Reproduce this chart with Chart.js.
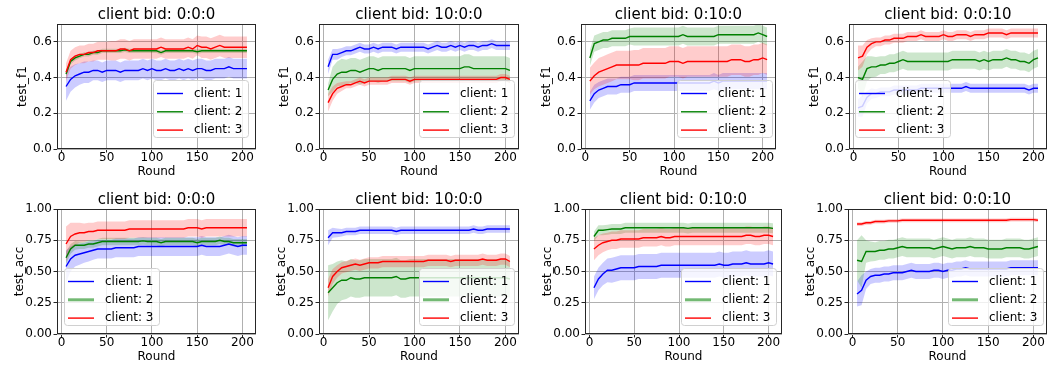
<!DOCTYPE html>
<html>
<head>
<meta charset="utf-8">
<script src="https://cdn.jsdelivr.net/npm/chart.js@4/dist/chart.umd.min.js"></script>
<style>
  body { margin: 0; background: #fff; width: 1048px; height: 369px; position: relative; overflow: hidden; }
  canvas { position: absolute; }
</style>
</head>
<body>
<script>
// ---- data ----
const ROUNDS = [5,10,15,20,25,30,35,40,45,50,55,60,65,70,75,80,85,90,95,100,105,110,115,120,125,130,135,140,145,150,155,160,165,170,175,180,185,190,195,200,205];
const X_TICKS = [0, 50, 100, 150, 200];
const F1_TICKS = [0, 0.2, 0.4, 0.6];
const F1_LABELS = ['0.0', '0.2', '0.4', '0.6'];
const ACC_TICKS = [0, 0.25, 0.5, 0.75, 1.0];
const ACC_LABELS = ['0.00', '0.25', '0.50', '0.75', '1.00'];
const CLIENTS = ['client: 1', 'client: 2', 'client: 3'];
const BIDS = ['0:0:0', '10:0:0', '0:10:0', '0:0:10'];

// test_f1, bid 0:0:0
const f1_000_c1 = [0.35,0.39,0.41,0.42,0.43,0.43,0.44,0.44,0.43,0.44, 0.44,0.44,0.43,0.44,0.44,0.44,0.44,0.45,0.44,0.45, 0.44,0.44,0.45,0.44,0.44,0.45,0.44,0.45,0.44,0.45, 0.45,0.44,0.44,0.45,0.45,0.45,0.46,0.45,0.45,0.45, 0.45];
const f1_000_c1_sd = [0.08,0.07,0.065,0.06,0.06,0.06,0.055,0.055,0.055,0.055, 0.055,0.055,0.055,0.055,0.055,0.055,0.055,0.055,0.055,0.055, 0.055,0.055,0.055,0.055,0.055,0.055,0.055,0.055,0.055,0.055, 0.055,0.055,0.055,0.055,0.055,0.055,0.055,0.055,0.055,0.055, 0.055];
const f1_000_c2 = [0.42,0.49,0.51,0.52,0.53,0.53,0.54,0.54,0.55,0.55, 0.55,0.55,0.55,0.555,0.55,0.55,0.55,0.55,0.55,0.55, 0.55,0.54,0.55,0.55,0.55,0.55,0.55,0.55,0.55,0.545, 0.55,0.55,0.55,0.55,0.55,0.55,0.55,0.55,0.55,0.55, 0.55];
const f1_000_c2_sd = [0.02,0.015,0.015,0.012,0.012,0.012,0.012,0.012,0.012,0.012, 0.012,0.012,0.012,0.012,0.012,0.012,0.012,0.012,0.012,0.012, 0.012,0.012,0.012,0.012,0.012,0.012,0.012,0.012,0.012,0.012, 0.012,0.012,0.012,0.012,0.012,0.012,0.012,0.012,0.012,0.012, 0.012];
const f1_000_c3 = [0.43,0.50,0.52,0.53,0.53,0.54,0.54,0.55,0.55,0.55, 0.55,0.55,0.56,0.56,0.55,0.56,0.56,0.56,0.56,0.56, 0.56,0.57,0.56,0.56,0.56,0.56,0.56,0.57,0.56,0.58, 0.57,0.57,0.56,0.57,0.58,0.57,0.57,0.57,0.57,0.57, 0.57];
const f1_000_c3_sd = [0.05,0.05,0.05,0.05,0.05,0.05,0.05,0.05,0.05,0.05, 0.055,0.055,0.055,0.055,0.055,0.055,0.055,0.055,0.055,0.055, 0.055,0.055,0.055,0.055,0.055,0.055,0.055,0.055,0.055,0.055, 0.06,0.06,0.06,0.06,0.06,0.06,0.06,0.06,0.06,0.06, 0.06];

// test_f1, bid 10:0:0
const f1_100_c1 = [0.46,0.53,0.53,0.54,0.55,0.55,0.56,0.57,0.56,0.56, 0.57,0.56,0.57,0.57,0.57,0.56,0.57,0.57,0.57,0.57, 0.57,0.57,0.56,0.57,0.58,0.57,0.57,0.58,0.57,0.58, 0.57,0.58,0.58,0.57,0.58,0.58,0.59,0.58,0.58,0.58, 0.58];
const f1_100_c1_sd = [0.04,0.03,0.03,0.025,0.025,0.025,0.025,0.025,0.025,0.025, 0.025,0.025,0.025,0.025,0.025,0.025,0.025,0.025,0.025,0.025, 0.025,0.025,0.025,0.025,0.025,0.025,0.025,0.025,0.025,0.025, 0.025,0.025,0.025,0.025,0.025,0.025,0.025,0.025,0.025,0.025, 0.025];
const f1_100_c2 = [0.33,0.39,0.42,0.43,0.43,0.44,0.44,0.43,0.44,0.45, 0.45,0.44,0.45,0.45,0.45,0.45,0.45,0.45,0.44,0.45, 0.45,0.45,0.45,0.45,0.45,0.45,0.45,0.45,0.45,0.45, 0.46,0.46,0.45,0.45,0.45,0.45,0.45,0.45,0.45,0.45, 0.44];
const f1_100_c2_sd = [0.035,0.07,0.07,0.075,0.07,0.07,0.07,0.07,0.07,0.07, 0.07,0.07,0.07,0.07,0.07,0.07,0.07,0.07,0.07,0.07, 0.07,0.07,0.07,0.07,0.07,0.07,0.07,0.07,0.07,0.07, 0.07,0.07,0.07,0.07,0.07,0.07,0.07,0.07,0.07,0.07, 0.07];
const f1_100_c3 = [0.26,0.31,0.34,0.35,0.36,0.36,0.37,0.38,0.37,0.38, 0.38,0.38,0.38,0.38,0.39,0.39,0.39,0.39,0.38,0.39, 0.39,0.39,0.39,0.39,0.39,0.39,0.39,0.39,0.39,0.39, 0.39,0.39,0.39,0.39,0.39,0.39,0.39,0.39,0.40,0.40, 0.39];
const f1_100_c3_sd = [0.05,0.04,0.03,0.025,0.02,0.02,0.02,0.02,0.02,0.02, 0.02,0.02,0.02,0.02,0.02,0.02,0.02,0.02,0.02,0.02, 0.02,0.02,0.02,0.02,0.02,0.02,0.02,0.02,0.02,0.02, 0.02,0.02,0.02,0.02,0.02,0.02,0.02,0.02,0.02,0.02, 0.02];

// test_f1, bid 0:10:0
const f1_010_c1 = [0.27,0.31,0.33,0.34,0.35,0.35,0.35,0.36,0.36,0.36, 0.37,0.37,0.37,0.37,0.37,0.37,0.37,0.37,0.37,0.37, 0.37,0.37,0.37,0.37,0.37,0.37,0.37,0.37,0.38,0.37, 0.38,0.38,0.38,0.38,0.38,0.38,0.38,0.38,0.38,0.38, 0.38];
const f1_010_c1_sd = [0.05,0.05,0.045,0.045,0.045,0.045,0.045,0.045,0.045,0.045, 0.045,0.045,0.045,0.045,0.045,0.045,0.045,0.045,0.045,0.045, 0.045,0.045,0.045,0.045,0.045,0.045,0.045,0.045,0.045,0.045, 0.045,0.045,0.045,0.045,0.045,0.045,0.045,0.045,0.045,0.045, 0.045];
const f1_010_c2 = [0.51,0.59,0.60,0.61,0.61,0.62,0.62,0.62,0.62,0.63, 0.63,0.63,0.63,0.63,0.63,0.63,0.63,0.63,0.63,0.63, 0.63,0.64,0.63,0.63,0.63,0.63,0.63,0.63,0.63,0.64, 0.64,0.64,0.64,0.64,0.64,0.64,0.64,0.64,0.65,0.64, 0.63];
const f1_010_c2_sd = [0.045,0.045,0.045,0.045,0.045,0.045,0.045,0.045,0.045,0.045, 0.05,0.05,0.05,0.05,0.05,0.05,0.05,0.05,0.05,0.05, 0.05,0.05,0.05,0.05,0.05,0.05,0.05,0.05,0.05,0.05, 0.05,0.05,0.05,0.05,0.05,0.05,0.05,0.05,0.05,0.05, 0.05];
const f1_010_c3 = [0.38,0.41,0.43,0.44,0.45,0.46,0.47,0.47,0.47,0.47, 0.47,0.47,0.48,0.48,0.48,0.48,0.48,0.48,0.49,0.49, 0.49,0.48,0.49,0.49,0.49,0.49,0.49,0.49,0.49,0.49, 0.49,0.49,0.50,0.50,0.50,0.49,0.49,0.50,0.50,0.51, 0.50];
const f1_010_c3_sd = [0.075,0.075,0.08,0.08,0.08,0.08,0.08,0.08,0.08,0.08, 0.085,0.085,0.085,0.085,0.085,0.085,0.085,0.085,0.085,0.085, 0.085,0.085,0.085,0.085,0.085,0.085,0.085,0.085,0.085,0.085, 0.085,0.085,0.085,0.085,0.085,0.085,0.085,0.085,0.085,0.085, 0.085];

// test_f1, bid 0:0:10
const f1_001_c1 = [0.23,0.24,0.29,0.31,0.31,0.32,0.32,0.32,0.33,0.33, 0.33,0.33,0.33,0.33,0.34,0.34,0.34,0.34,0.34,0.34, 0.34,0.34,0.34,0.34,0.35,0.34,0.34,0.34,0.34,0.34, 0.34,0.34,0.34,0.34,0.34,0.34,0.34,0.34,0.33,0.34, 0.34];
const f1_001_c1_sd = [0.05,0.06,0.035,0.03,0.025,0.025,0.025,0.025,0.025,0.025, 0.025,0.025,0.025,0.025,0.025,0.025,0.025,0.025,0.025,0.025, 0.025,0.025,0.025,0.025,0.025,0.025,0.025,0.025,0.025,0.025, 0.025,0.025,0.025,0.025,0.025,0.025,0.025,0.025,0.025,0.025, 0.025];
const f1_001_c2 = [0.40,0.39,0.45,0.46,0.46,0.47,0.47,0.48,0.48,0.49, 0.50,0.49,0.49,0.49,0.49,0.49,0.49,0.49,0.49,0.49, 0.49,0.50,0.50,0.50,0.50,0.50,0.50,0.49,0.50,0.49, 0.50,0.50,0.50,0.51,0.50,0.50,0.49,0.49,0.48,0.50, 0.51];
const f1_001_c2_sd = [0.06,0.10,0.07,0.06,0.055,0.05,0.05,0.05,0.05,0.05, 0.05,0.05,0.05,0.05,0.05,0.05,0.05,0.05,0.05,0.05, 0.05,0.05,0.05,0.05,0.05,0.05,0.05,0.05,0.05,0.05, 0.05,0.05,0.05,0.05,0.05,0.05,0.05,0.05,0.05,0.05, 0.05];
const f1_001_c3 = [0.51,0.52,0.57,0.59,0.60,0.60,0.61,0.61,0.62,0.62, 0.62,0.63,0.63,0.63,0.64,0.63,0.63,0.63,0.63,0.64, 0.63,0.63,0.64,0.64,0.64,0.63,0.64,0.64,0.64,0.65, 0.65,0.65,0.65,0.64,0.65,0.65,0.65,0.65,0.65,0.65, 0.65];
const f1_001_c3_sd = [0.07,0.06,0.04,0.03,0.025,0.025,0.025,0.025,0.025,0.025, 0.025,0.025,0.025,0.025,0.025,0.025,0.025,0.025,0.025,0.025, 0.025,0.025,0.025,0.025,0.025,0.025,0.025,0.025,0.025,0.025, 0.025,0.025,0.025,0.025,0.025,0.025,0.025,0.025,0.025,0.025, 0.025];

// test_acc, bid 0:0:0
const acc_000_c1 = [0.54,0.60,0.63,0.64,0.65,0.66,0.67,0.68,0.68,0.68, 0.68,0.69,0.69,0.69,0.69,0.69,0.70,0.70,0.70,0.70, 0.70,0.70,0.70,0.70,0.70,0.70,0.70,0.70,0.70,0.70, 0.71,0.70,0.70,0.70,0.70,0.71,0.72,0.71,0.70,0.71, 0.71];
const acc_000_c1_sd = [0.13,0.10,0.09,0.085,0.08,0.08,0.075,0.075,0.075,0.075, 0.075,0.075,0.075,0.075,0.075,0.075,0.075,0.075,0.075,0.075, 0.075,0.075,0.075,0.075,0.075,0.075,0.075,0.075,0.075,0.075, 0.075,0.075,0.075,0.075,0.075,0.075,0.075,0.075,0.075,0.075, 0.075];
const acc_000_c2 = [0.61,0.68,0.71,0.71,0.71,0.72,0.72,0.73,0.74,0.74, 0.74,0.74,0.74,0.74,0.74,0.74,0.74,0.745,0.74,0.74, 0.74,0.73,0.74,0.74,0.74,0.74,0.74,0.74,0.74,0.73, 0.74,0.74,0.74,0.74,0.75,0.74,0.74,0.73,0.73,0.73, 0.73];
const acc_000_c2_sd = [0.05,0.04,0.035,0.03,0.03,0.03,0.03,0.03,0.03,0.03, 0.03,0.03,0.03,0.03,0.03,0.03,0.03,0.03,0.03,0.03, 0.03,0.03,0.03,0.03,0.03,0.03,0.03,0.03,0.03,0.03, 0.03,0.03,0.03,0.03,0.03,0.03,0.03,0.03,0.03,0.03, 0.03];
const acc_000_c3 = [0.72,0.78,0.80,0.81,0.81,0.82,0.82,0.83,0.83,0.83, 0.83,0.83,0.83,0.83,0.84,0.84,0.84,0.84,0.84,0.84, 0.84,0.84,0.84,0.84,0.84,0.84,0.84,0.85,0.85,0.85, 0.84,0.85,0.85,0.85,0.85,0.85,0.85,0.85,0.85,0.85, 0.85];
const acc_000_c3_sd = [0.14,0.11,0.09,0.08,0.075,0.07,0.07,0.07,0.07,0.07, 0.07,0.07,0.07,0.07,0.07,0.07,0.07,0.07,0.07,0.07, 0.07,0.07,0.07,0.07,0.07,0.07,0.07,0.07,0.07,0.07, 0.07,0.07,0.07,0.07,0.07,0.07,0.07,0.07,0.07,0.07, 0.07];

// test_acc, bid 10:0:0
const acc_100_c1 = [0.77,0.81,0.81,0.81,0.82,0.82,0.82,0.83,0.83,0.83, 0.83,0.83,0.83,0.83,0.83,0.82,0.83,0.83,0.83,0.83, 0.83,0.83,0.83,0.83,0.83,0.83,0.83,0.83,0.83,0.83, 0.83,0.83,0.84,0.83,0.83,0.84,0.84,0.84,0.84,0.84, 0.84];
const acc_100_c1_sd = [0.06,0.04,0.035,0.03,0.03,0.03,0.03,0.03,0.03,0.03, 0.03,0.03,0.03,0.03,0.03,0.03,0.03,0.03,0.03,0.03, 0.03,0.03,0.03,0.03,0.03,0.03,0.03,0.03,0.03,0.03, 0.03,0.03,0.03,0.03,0.03,0.03,0.03,0.03,0.03,0.03, 0.03];
const acc_100_c2 = [0.33,0.37,0.41,0.43,0.43,0.45,0.44,0.44,0.45,0.45, 0.45,0.45,0.45,0.45,0.45,0.46,0.44,0.44,0.45,0.45, 0.45,0.45,0.45,0.45,0.45,0.45,0.45,0.45,0.45,0.45, 0.45,0.45,0.45,0.45,0.45,0.45,0.45,0.45,0.45,0.45, 0.44];
const acc_100_c2_sd = [0.22,0.19,0.17,0.16,0.15,0.15,0.15,0.15,0.15,0.15, 0.15,0.15,0.15,0.15,0.15,0.15,0.15,0.15,0.15,0.15, 0.15,0.15,0.15,0.15,0.15,0.15,0.15,0.15,0.15,0.15, 0.15,0.15,0.15,0.15,0.15,0.15,0.15,0.15,0.15,0.15, 0.15];
const acc_100_c3 = [0.37,0.46,0.50,0.53,0.54,0.55,0.56,0.55,0.56,0.57, 0.57,0.57,0.58,0.58,0.58,0.58,0.58,0.58,0.58,0.58, 0.58,0.58,0.59,0.59,0.59,0.59,0.59,0.58,0.59,0.59, 0.59,0.59,0.59,0.59,0.60,0.59,0.59,0.59,0.60,0.60, 0.58];
const acc_100_c3_sd = [0.07,0.06,0.05,0.045,0.045,0.045,0.045,0.045,0.045,0.045, 0.045,0.045,0.045,0.045,0.045,0.045,0.045,0.045,0.045,0.045, 0.045,0.045,0.045,0.045,0.045,0.045,0.045,0.045,0.045,0.045, 0.045,0.045,0.045,0.045,0.045,0.045,0.045,0.045,0.045,0.045, 0.045];

// test_acc, bid 0:10:0
const acc_010_c1 = [0.37,0.44,0.48,0.51,0.51,0.52,0.53,0.53,0.53,0.53, 0.54,0.54,0.54,0.54,0.54,0.55,0.55,0.55,0.55,0.55, 0.55,0.55,0.55,0.55,0.55,0.55,0.55,0.55,0.56,0.55, 0.55,0.56,0.56,0.56,0.57,0.56,0.56,0.56,0.56,0.57, 0.56];
const acc_010_c1_sd = [0.09,0.09,0.09,0.095,0.10,0.10,0.10,0.10,0.10,0.10, 0.10,0.10,0.10,0.10,0.10,0.10,0.10,0.10,0.10,0.10, 0.10,0.10,0.10,0.10,0.10,0.10,0.10,0.10,0.10,0.10, 0.10,0.10,0.10,0.10,0.10,0.10,0.10,0.10,0.10,0.10, 0.10];
const acc_010_c2 = [0.78,0.83,0.83,0.835,0.84,0.84,0.84,0.85,0.85,0.85, 0.85,0.85,0.85,0.85,0.85,0.85,0.85,0.85,0.85,0.85, 0.85,0.845,0.85,0.85,0.85,0.85,0.85,0.85,0.85,0.85, 0.85,0.85,0.85,0.85,0.85,0.85,0.85,0.85,0.85,0.85, 0.845];
const acc_010_c2_sd = [0.04,0.04,0.04,0.04,0.04,0.04,0.04,0.04,0.04,0.04, 0.04,0.04,0.04,0.04,0.04,0.04,0.04,0.04,0.04,0.04, 0.04,0.04,0.04,0.04,0.04,0.04,0.04,0.04,0.04,0.04, 0.04,0.04,0.04,0.04,0.04,0.04,0.04,0.04,0.04,0.04, 0.04];
const acc_010_c3 = [0.68,0.71,0.73,0.74,0.75,0.75,0.76,0.76,0.76,0.76, 0.76,0.77,0.77,0.77,0.77,0.78,0.77,0.77,0.78,0.78, 0.78,0.78,0.78,0.78,0.78,0.78,0.78,0.78,0.78,0.78, 0.78,0.78,0.78,0.78,0.79,0.79,0.78,0.78,0.79,0.79, 0.78];
const acc_010_c3_sd = [0.09,0.08,0.075,0.07,0.07,0.07,0.07,0.07,0.07,0.07, 0.07,0.07,0.07,0.07,0.07,0.07,0.07,0.07,0.07,0.07, 0.07,0.07,0.07,0.07,0.07,0.07,0.07,0.07,0.07,0.07, 0.07,0.07,0.07,0.07,0.07,0.07,0.07,0.07,0.07,0.07, 0.07];

// test_acc, bid 0:0:10
const acc_001_c1 = [0.32,0.35,0.43,0.46,0.47,0.47,0.48,0.48,0.49,0.49, 0.49,0.50,0.51,0.50,0.50,0.50,0.50,0.51,0.51,0.50, 0.51,0.51,0.52,0.52,0.53,0.52,0.52,0.52,0.52,0.52, 0.52,0.52,0.52,0.52,0.53,0.53,0.53,0.53,0.53,0.53, 0.53];
const acc_001_c1_sd = [0.10,0.12,0.07,0.06,0.06,0.06,0.06,0.06,0.06,0.06, 0.06,0.06,0.06,0.06,0.06,0.06,0.06,0.06,0.06,0.06, 0.06,0.06,0.06,0.06,0.06,0.06,0.06,0.06,0.06,0.06, 0.06,0.06,0.06,0.06,0.06,0.06,0.06,0.06,0.06,0.06, 0.06];
const acc_001_c2 = [0.59,0.58,0.66,0.66,0.66,0.67,0.67,0.68,0.68,0.69, 0.70,0.69,0.69,0.69,0.69,0.69,0.69,0.68,0.69,0.70, 0.69,0.68,0.69,0.69,0.69,0.70,0.69,0.69,0.69,0.68, 0.68,0.68,0.68,0.69,0.69,0.69,0.69,0.68,0.68,0.69, 0.70];
const acc_001_c2_sd = [0.16,0.21,0.09,0.08,0.075,0.075,0.075,0.075,0.075,0.075, 0.075,0.075,0.075,0.075,0.075,0.075,0.075,0.075,0.075,0.075, 0.075,0.075,0.075,0.075,0.075,0.075,0.075,0.075,0.075,0.075, 0.075,0.075,0.075,0.075,0.075,0.075,0.075,0.075,0.075,0.075, 0.075];
const acc_001_c3 = [0.88,0.88,0.89,0.89,0.90,0.90,0.90,0.905,0.905,0.905, 0.91,0.91,0.91,0.91,0.91,0.91,0.91,0.91,0.91,0.91, 0.91,0.91,0.91,0.91,0.91,0.91,0.91,0.91,0.91,0.91, 0.91,0.91,0.91,0.91,0.915,0.915,0.915,0.915,0.915,0.915, 0.91];
const acc_001_c3_sd = [0.015,0.015,0.015,0.015,0.015,0.015,0.015,0.015,0.015,0.015, 0.015,0.015,0.015,0.015,0.015,0.015,0.015,0.015,0.015,0.015, 0.015,0.015,0.015,0.015,0.015,0.015,0.015,0.015,0.015,0.015, 0.015,0.015,0.015,0.015,0.015,0.015,0.015,0.015,0.015,0.015, 0.015];

// ---- layout: axes box [left, top, right] in page pixels, legend corner ----
const PANELS = [
  { bid: BIDS[0], f1: true,  means: [f1_000_c1, f1_000_c2, f1_000_c3], sds: [f1_000_c1_sd, f1_000_c2_sd, f1_000_c3_sd], box: [57, 24, 256],  leg: ['lr', 8, 12] },
  { bid: BIDS[1], f1: true,  means: [f1_100_c1, f1_100_c2, f1_100_c3], sds: [f1_100_c1_sd, f1_100_c2_sd, f1_100_c3_sd], box: [319, 24, 519], leg: ['lr', 5, 12] },
  { bid: BIDS[2], f1: true,  means: [f1_010_c1, f1_010_c2, f1_010_c3], sds: [f1_010_c1_sd, f1_010_c2_sd, f1_010_c3_sd], box: [581, 24, 776], leg: ['lr', 4, 12] },
  { bid: BIDS[3], f1: true,  means: [f1_001_c1, f1_001_c2, f1_001_c3], sds: [f1_001_c1_sd, f1_001_c2_sd, f1_001_c3_sd], box: [849, 24, 1047], leg: ['ll', 6, 12] },
  { bid: BIDS[0], f1: false, means: [acc_000_c1, acc_000_c2, acc_000_c3], sds: [acc_000_c1_sd, acc_000_c2_sd, acc_000_c3_sd], box: [57, 209, 256],  leg: ['ll', 7, 9] },
  { bid: BIDS[1], f1: false, means: [acc_100_c1, acc_100_c2, acc_100_c3], sds: [acc_100_c1_sd, acc_100_c2_sd, acc_100_c3_sd], box: [319, 209, 519], leg: ['lr', 5, 9] },
  { bid: BIDS[2], f1: false, means: [acc_010_c1, acc_010_c2, acc_010_c3], sds: [acc_010_c1_sd, acc_010_c2_sd, acc_010_c3_sd], box: [585, 209, 782], leg: ['lr', 6, 9] },
  { bid: BIDS[3], f1: false, means: [acc_001_c1, acc_001_c2, acc_001_c3], sds: [acc_001_c1_sd, acc_001_c2_sd, acc_001_c3_sd], box: [848, 209, 1047], leg: ['lr', 4, 9] }
];

const LINE_COLORS = ['rgb(0,0,255)', 'rgb(0,128,0)', 'rgb(255,0,0)'];
const BAND_COLORS = ['rgba(0,0,255,0.2)', 'rgba(0,128,0,0.2)', 'rgba(255,0,0,0.2)'];

Chart.defaults.font.family = "'DejaVu Sans', sans-serif";
Chart.defaults.color = '#000';

// top/right/left/bottom spines
const framePlugin = {
  id: 'frame',
  afterDatasetsDraw(chart) {
    const { ctx, chartArea: a } = chart;
    ctx.save();
    ctx.strokeStyle = '#262626';
    ctx.lineWidth = 1;
    ctx.strokeRect(a.left + 0.5, a.top + 0.5, a.right - a.left - 1, a.bottom - a.top - 1);
    ctx.restore();
  }
};

// matplotlib-like legend box inside the axes
const boxLegend = {
  id: 'boxLegend',
  afterDraw(chart, args, opts) {
    const { ctx, chartArea: a } = chart;
    const w = 95, h = 57;
    const x = opts.corner === 'll' ? a.left + opts.dx : a.right - opts.dx - w;
    const y = a.bottom - opts.dy - h;
    ctx.save();
    ctx.beginPath();
    ctx.roundRect(x + 0.5, y + 0.5, w, h, 3);
    ctx.fillStyle = 'rgba(255,255,255,0.8)';
    ctx.fill();
    ctx.strokeStyle = '#d0d0d0';
    ctx.lineWidth = 1;
    ctx.stroke();
    ctx.font = "12px 'DejaVu Sans'";
    ctx.textBaseline = 'middle';
    ctx.textAlign = 'left';
    CLIENTS.forEach((label, i) => {
      const cy = y + 13.5 + i * 18.3;
      ctx.beginPath();
      ctx.moveTo(x + 4, cy);
      ctx.lineTo(x + 30, cy);
      if (opts.thickGreen && i === 1) {
        ctx.strokeStyle = 'rgba(0,128,0,0.55)';
        ctx.lineWidth = 3;
      } else {
        ctx.strokeStyle = LINE_COLORS[i];
        ctx.lineWidth = 1.4;
      }
      ctx.stroke();
      ctx.fillStyle = '#000';
      ctx.fillText(label, x + 41, cy);
    });
    ctx.restore();
  }
};

function pts(vals, sd, sign) {
  return ROUNDS.map((r, j) => ({ x: r, y: vals[j] + sign * sd[j] }));
}

PANELS.forEach(p => {
  const [L, T, R] = p.box;
  const W = R - L + 60, H = 185;
  const cv = document.createElement('canvas');
  cv.width = W; cv.height = H;
  cv.style.left = (L - 57) + 'px';
  cv.style.top = (T - 24) + 'px';
  cv.style.width = W + 'px';
  cv.style.height = H + 'px';
  document.body.appendChild(cv);

  // lines first (drawn last = on top), then bands
  const datasets = [];
  for (let c = 2; c >= 0; c--) {
    datasets.push({
      data: pts(p.means[c], p.sds[c], 0),
      borderColor: LINE_COLORS[c], borderWidth: 1.4,
      pointRadius: 0, fill: false, tension: 0
    });
  }
  for (let c = 2; c >= 0; c--) {
    datasets.push({
      data: pts(p.means[c], p.sds[c], 1),
      borderColor: 'transparent', borderWidth: 0, backgroundColor: BAND_COLORS[c],
      pointRadius: 0, fill: '+1', tension: 0
    });
    datasets.push({
      data: pts(p.means[c], p.sds[c], -1),
      borderColor: 'transparent', borderWidth: 0,
      pointRadius: 0, fill: false, tension: 0
    });
  }

  const yTicks = p.f1 ? F1_TICKS : ACC_TICKS;
  const yLabels = p.f1 ? F1_LABELS : ACC_LABELS;
  const gridOpts = { color: '#b0b0b0', lineWidth: 1, tickLength: 3.5, tickColor: '#262626', tickWidth: 1 };

  new Chart(cv, {
    type: 'line',
    data: { datasets },
    plugins: [framePlugin, boxLegend],
    options: {
      responsive: false,
      animation: false,
      devicePixelRatio: 1,
      layout: { padding: { left: 0, right: 3, top: 0, bottom: 0 } },
      scales: {
        x: {
          type: 'linear', min: -5, max: 215,
          afterBuildTicks: s => { s.ticks = X_TICKS.map(v => ({ value: v })); },
          afterFit: s => { s.height = 36; },
          ticks: { font: { size: 12, lineHeight: 1 }, padding: -1, maxRotation: 0, autoSkip: false, color: '#000', callback: v => String(v) },
          grid: gridOpts,
          border: { display: false },
          title: { display: true, text: 'Round', font: { size: 12 }, padding: { top: 0, bottom: 6 }, color: '#000' }
        },
        y: {
          type: 'linear', min: 0, max: p.f1 ? 0.7 : 1.0,
          afterBuildTicks: s => { s.ticks = yTicks.map(v => ({ value: v })); },
          afterFit: s => { s.width = 57; },
          ticks: { font: { size: 12 }, padding: 1.5, autoSkip: false, color: '#000', callback: (v, i) => yLabels[i] },
          grid: gridOpts,
          border: { display: false },
          title: { display: true, text: p.f1 ? 'test_f1' : 'test_acc', font: { size: 12 }, padding: { top: p.f1 ? 16 : 13, bottom: 0 }, color: '#000' }
        }
      },
      plugins: {
        legend: { display: false },
        tooltip: { enabled: false },
        title: { display: true, fullSize: false, text: 'client bid: ' + p.bid, font: { size: 15, weight: 'normal' }, padding: { top: 6, bottom: 0 }, color: '#000' },
        boxLegend: { corner: p.leg[0], dx: p.leg[1], dy: p.leg[2], thickGreen: !p.f1 }
      }
    }
  });
});
</script>
</body>
</html>
